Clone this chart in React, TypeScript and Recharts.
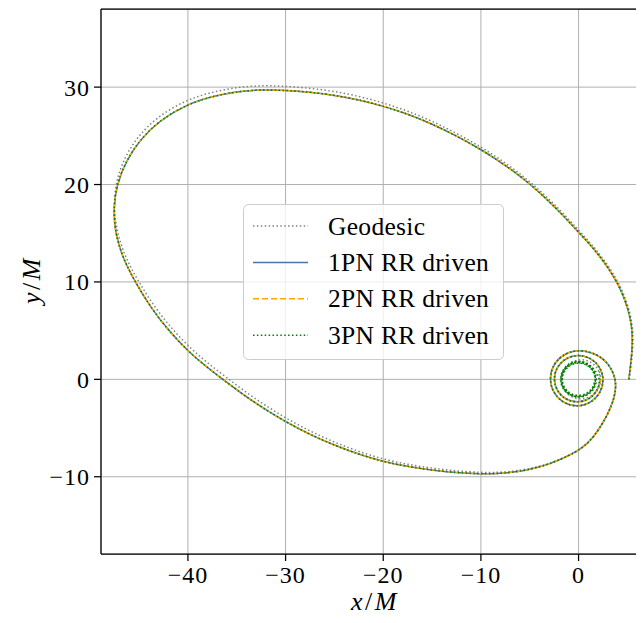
import React from 'react';
import { LineChart, Line, XAxis, YAxis, CartesianGrid, Legend, ReferenceLine } from 'recharts';

// Radiation-reaction driven orbit (outer ellipse)
const rrX = [5.15, 5.45, 5.55, 5.3, 4.75, 3.95, 2.7, 1.4, 0.0, -1.56, -3.19, -4.9, -6.54, -8.24, -10.0, -12.5, -15.0, -17.5, -20.0, -22.5, -25.0, -27.5, -30.0, -32.5, -35.0, -37.5, -40.0, -42.9, -44.9, -46.3, -47.3, -47.65, -47.4, -46.6, -45.4, -43.85, -42.05, -40.0, -38.28, -36.5, -34.4, -32.24, -30.0, -27.6, -25.13, -22.6, -20.0, -17.52, -15.03, -12.52, -10.0, -8.35, -6.7, -5.0, -3.26, -1.55];
const rrY = [0.0, 2.5, 4.5, 6.4, 8.2, 10.0, 11.95, 13.6, 15.1, 16.81, 18.44, 20.0, 21.28, 22.48, 23.6, 25.0, 26.22, 27.25, 28.05, 28.7, 29.18, 29.48, 29.68, 29.74, 29.55, 29.05, 28.28, 26.6, 24.6, 22.5, 20.0, 17.4, 14.8, 12.3, 10.0, 7.44, 5.08, 2.9, 1.43, 0.05, -1.53, -2.99, -4.35, -5.62, -6.72, -7.67, -8.45, -8.95, -9.32, -9.58, -9.72, -9.68, -9.55, -9.25, -8.8, -8.1];

// Geodesic outer ellipse
const geoX = [5.2, 5.52, 5.63, 5.38, 4.84, 4.05, 2.81, 1.51, 0.11, -1.46, -3.1, -4.82, -6.47, -8.18, -9.95, -12.47, -14.98, -17.5, -20.0, -22.5, -25.0, -27.5, -30.0, -32.52, -35.05, -37.6, -40.15, -43.1, -45.12, -46.5, -47.42, -47.6, -47.18, -46.3, -45.07, -43.5, -41.7, -39.66, -37.95, -36.2, -34.12, -31.98, -29.77, -27.41, -24.98, -22.48, -19.92, -17.47, -15.0, -12.5, -10.0, -8.35, -6.7, -5.0, -3.26, -1.55];
const geoY = [0.0, 2.5, 4.52, 6.43, 8.25, 10.06, 12.02, 13.68, 15.2, 16.93, 18.58, 20.16, 21.47, 22.69, 23.83, 25.26, 26.5, 27.56, 28.39, 29.07, 29.57, 29.89, 30.1, 30.17, 29.98, 29.48, 28.7, 27.0, 24.95, 22.8, 20.2, 17.4, 14.75, 12.3, 10.05, 7.55, 5.24, 3.1, 1.66, 0.3, -1.28, -2.74, -4.1, -5.37, -6.47, -7.43, -8.22, -8.74, -9.13, -9.41, -9.57, -9.56, -9.45, -9.17, -8.75, -8.07];

// Shared final approach and the two spiral loops near the origin
const spiralX = [0.15, 1.5, 2.9, 3.74, 3.9, 3.02, 1.5, -0.1, -1.59, -2.65, -3.0, -2.59, -1.53, -0.1, 1.3, 2.28, 2.62, 2.2, 1.2, -0.1, -1.36, -2.27, -2.58, -2.23, -1.32, -0.1, 1.1, 1.96, 2.26];
const spiralY = [-7.26, -6.06, -3.84, -1.8, 0.0, 1.8, 2.77, 3.05, 2.58, 1.48, 0.0, -1.44, -2.48, -2.85, -2.42, -1.38, 0.0, 1.33, 2.25, 2.55, 2.18, 1.25, 0.0, -1.23, -2.11, -2.42, -2.08, -1.19, 0.0];

// 3PN final circular loops
const plungeX = [1.689, 0.973, 0.0, -0.969, -1.675, -1.93, -1.668, -0.961, 0.0, 0.957, 1.654, 1.906, 1.645, 0.948, 0.0, -0.944, -1.632, -1.88, -1.625, -0.936, 0.0, 0.932, 1.611, 1.856, 1.602, 0.923, 0.0, -0.919, -1.588, -1.83, -1.581, -0.911, 0.0, 0.907, 1.568, 1.806, 1.559, 0.898, 0.0, -0.894, -1.545, -1.78, -1.538, -0.886, 0.0, 0.882, 1.524, 1.756, 1.516, 0.873, 0.0, -0.869, -1.502, -1.73, -1.495, -0.861, 0.0, 0.857, 1.481, 1.706];
const plungeY = [0.975, 1.685, 1.942, 1.678, 0.967, 0.0, -0.963, -1.664, -1.918, -1.658, -0.955, 0.0, 0.95, 1.642, 1.892, 1.635, 0.942, 0.0, -0.938, -1.621, -1.868, -1.614, -0.93, 0.0, 0.925, 1.599, 1.842, 1.592, 0.917, 0.0, -0.913, -1.578, -1.818, -1.571, -0.905, 0.0, 0.9, 1.555, 1.792, 1.548, 0.892, 0.0, -0.888, -1.535, -1.768, -1.528, -0.88, 0.0, 0.875, 1.512, 1.742, 1.505, 0.867, 0.0, -0.863, -1.491, -1.718, -1.484, -0.855, 0.0];

// Geodesic final loop
const geoInnerX = [2.07, 1.3, 0.25, -0.8, -1.57, -1.85, -1.57, -0.8, 0.25, 1.3, 2.07, 2.35, 2.07];
const geoInnerY = [1.05, 1.82, 2.1, 1.82, 1.05, 0.0, -1.05, -1.82, -2.1, -1.82, -1.05, 0.0, 1.05];

const xTicks = [-40, -30, -20, -10, 0];
const yTicks = [-10, 0, 10, 20, 30];
const xDomain = [-48.9, 6.7];
const yDomain = [-17.93, 38.02];

const seriesNames = ['Geodesic', '1PN RR driven', '2PN RR driven', '3PN RR driven'];
const seriesColors = ['#808080', '#4c72b0', '#ffa500', '#008000'];
const seriesDash = ['1.5 2.4', undefined, '5.5 2.4', '1.5 2.4'];
const legendDash = ['1.5 2.4', undefined, '6 3', '1.5 2.4'];

const toPts = (xs: number[], ys: number[]) => xs.map((x, i) => ({ x, y: ys[i] }));

const geodesicData = [...toPts(geoX, geoY), ...toPts(spiralX, spiralY), ...toPts(geoInnerX, geoInnerY)];
const pn1Data = [...toPts(rrX, rrY), ...toPts(spiralX, spiralY)];
const pn2Data = [...toPts(rrX, rrY), ...toPts(spiralX, spiralY)];
const pn3Data = [...toPts(rrX, rrY), ...toPts(spiralX, spiralY), ...toPts(plungeX, plungeY)];
const allData = [geodesicData, pn1Data, pn2Data, pn3Data];

const FONT = "'Liberation Serif', 'DejaVu Serif', serif";
const fmt = (v: number) => (v < 0 ? '\u2212' + Math.abs(v) : String(v));

const LegendBox = () => (
  <svg width={262} height={157} style={{ display: 'block' }}>
    <rect x={0.5} y={0.5} width={260} height={155} rx={5} ry={5} fill="#ffffff" fillOpacity={0.8} stroke="#cccccc" strokeWidth={1} />
    {seriesNames.map((name, i) => {
      const cy = 22 + i * 36.4;
      return (
        <g key={name}>
          <line x1={10} x2={65} y1={cy} y2={cy} stroke={seriesColors[i]} strokeWidth={1.5} strokeDasharray={legendDash[i]} />
          <text x={85} y={cy} dominantBaseline="central" fontFamily={FONT} fontSize={25.5} letterSpacing={0.3} fill="#000">{name}</text>
        </g>
      );
    })}
  </svg>
);

const XLabel = () => (
  <text x={367} y={602} textAnchor="middle" fontFamily={FONT} fontSize={26} letterSpacing={2.5} fill="#000">
    <tspan fontStyle="italic">x</tspan>
    <tspan>/</tspan>
    <tspan fontStyle="italic">M</tspan>
  </text>
);

const YLabel = () => (
  <text x={0} y={0} transform="translate(23,272) rotate(-90)" textAnchor="middle" dominantBaseline="central" fontFamily={FONT} fontSize={26} letterSpacing={2.5} fill="#000">
    <tspan fontStyle="italic">y</tspan>
    <tspan>/</tspan>
    <tspan fontStyle="italic">M</tspan>
  </text>
);

const tickStyle = { fill: '#000', fontSize: 24, fontFamily: FONT, letterSpacing: 1 };

export default function App() {
  return (
    <div style={{ width: 636, height: 615 }}>
      <LineChart width={636} height={615} margin={{ top: 1, right: 0, left: 0, bottom: 0 }}>
        <CartesianGrid stroke="#b0b0b0" strokeWidth={1} />
        <XAxis
          type="number"
          dataKey="x"
          domain={xDomain}
          allowDataOverflow
          ticks={xTicks}
          tickFormatter={fmt}
          height={69}
          tickSize={7}
          tickMargin={5}
          axisLine={{ stroke: '#000', strokeWidth: 1.25 }}
          tickLine={{ stroke: '#000', strokeWidth: 1.25 }}
          tick={tickStyle}
          label={{ content: () => <XLabel /> }}
        />
        <YAxis
          type="number"
          dataKey="y"
          domain={yDomain}
          allowDataOverflow
          ticks={yTicks}
          tickFormatter={fmt}
          width={93}
          tickSize={7}
          tickMargin={4}
          axisLine={{ stroke: '#000', strokeWidth: 1.25 }}
          tickLine={{ stroke: '#000', strokeWidth: 1.25 }}
          tick={tickStyle}
          label={{ content: () => <YLabel /> }}
        />
        <ReferenceLine y={yDomain[1]} stroke="#000" strokeWidth={1.25} ifOverflow="extendDomain" />
        {allData.map((d, i) => (
          <Line
            key={seriesNames[i]}
            data={d}
            dataKey="y"
            name={seriesNames[i]}
            type="basis"
            stroke={seriesColors[i]}
            strokeWidth={1.5}
            strokeDasharray={seriesDash[i]}
            dot={false}
            activeDot={false}
            isAnimationActive={false}
          />
        ))}
        <Legend
          layout="vertical"
          align="center"
          verticalAlign="middle"
          content={() => <LegendBox />}
          wrapperStyle={{ left: 235, top: 196, width: 262, height: 157 }}
        />
      </LineChart>
    </div>
  );
}
